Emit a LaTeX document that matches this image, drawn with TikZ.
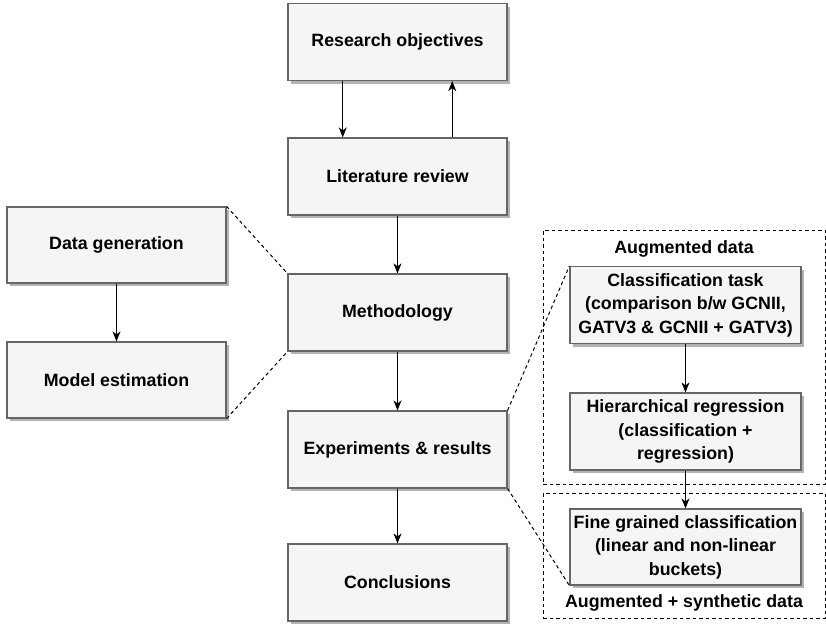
\documentclass[tikz,border=0pt]{standalone}
\usepackage{fontspec}
\setmainfont{Liberation Sans}
\usetikzlibrary{arrows.meta,shadows}
\definecolor{boxfill}{HTML}{F5F5F5}
\definecolor{boxline}{HTML}{666666}
\definecolor{shadowc}{HTML}{B3B3B3}
\tikzset{
  stepbox/.style={draw=boxline, fill=boxfill, line width=1.2pt, inner sep=0pt,
    align=center, font=\fontsize{17.8}{23.5}\selectfont\bfseries,
    general shadow={fill=shadowc, shadow xshift=3pt, shadow yshift=-3pt}},
  mainbox/.style={stepbox, minimum width=219pt, minimum height=77pt},
  sidebox/.style={stepbox, minimum width=219pt, minimum height=76pt},
  rightbox/.style={stepbox, minimum width=231pt, minimum height=77pt},
  groupbox/.style={draw=black, line width=1pt, dash pattern=on 3.5pt off 3pt, inner sep=0pt, minimum width=282pt},
  grouplabel/.style={font=\fontsize{17.8}{21.5}\selectfont\bfseries, inner sep=0pt},
  arr/.style={draw=black, line width=1.2pt, -{Stealth[length=10pt,width=8pt,inset=3pt]}},
  dline/.style={draw=black, line width=1pt, dash pattern=on 3.5pt off 3pt}
}
\begin{document}
\begin{tikzpicture}[x=1pt,y=-1pt]
\useasboundingbox (0,0) rectangle (826,624);
% dashed groups
\node[groupbox, minimum height=254pt] (aug) at (684,357) {};
\node[groupbox, minimum height=125pt] (syn) at (684,555.5) {};
\node[grouplabel] (augl) at (684,249) {Augmented data};
\node[grouplabel] (synl) at (684,603) {Augmented + synthetic data};
% main column
\node[mainbox] (ro) at (397.5,42) {Research objectives};
\node[mainbox] (lr) at (397.5,176.5) {Literature review};
\node[mainbox] (meth) at (397.5,312.5) {Methodology};
\node[mainbox] (exp) at (397.5,449.5) {Experiments \& results};
\node[mainbox] (conc) at (397.5,582.5) {Conclusions};
% left column
\node[sidebox] (dg) at (116.5,245) {Data generation};
\node[sidebox] (me) at (116.5,380) {Model estimation};
% right column
\node[rightbox] (cls) at (685.5,305) {Classification task\\(comparison b/w GCNII,\\GATV3 \& GCNII + GATV3)};
\node[rightbox] (hr) at (685.5,431.5) {Hierarchical regression\\(classification +\\regression)};
\node[rightbox, minimum height=76pt] (fg) at (685.5,547) {Fine grained classification\\(linear and non-linear\\buckets)};
% arrows
\draw[arr] ([xshift=-54.75pt]ro.south) -- ([xshift=-54.75pt]lr.north);
\draw[arr] ([xshift=54.75pt]lr.north) -- ([xshift=54.75pt]ro.south);
\draw[arr] (lr) -- (meth);
\draw[arr] (meth) -- (exp);
\draw[arr] (exp) -- (conc);
\draw[arr] (dg) -- (me);
\draw[arr] (cls) -- (hr);
\draw[arr] (hr) -- (fg);
% dashed connectors
\draw[dline] (dg.north east) -- (meth.north west);
\draw[dline] (me.south east) -- (meth.south west);
\draw[dline] (exp.north east) -- (cls.north west);
\draw[dline] (exp.south east) -- (fg.south west);
\end{tikzpicture}
\end{document}
